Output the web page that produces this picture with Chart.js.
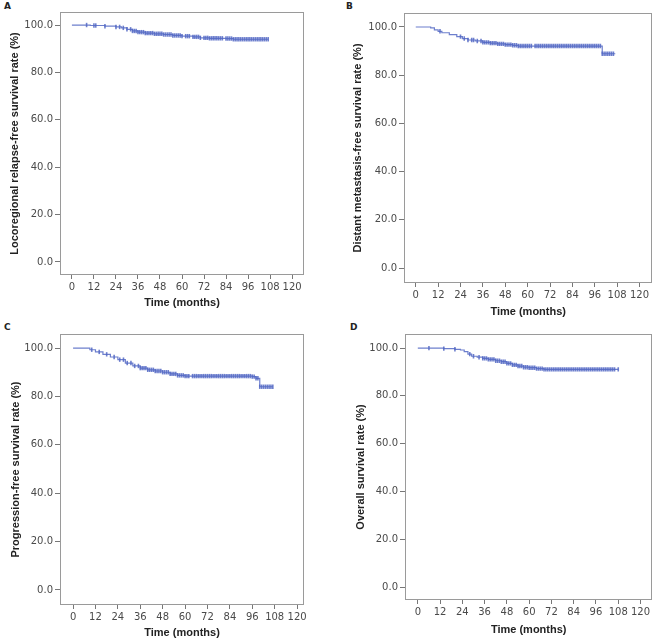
<!DOCTYPE html>
<html><head><meta charset="utf-8">
<script src="https://cdn.jsdelivr.net/npm/chart.js@4.4.1/dist/chart.umd.min.js"></script>
<style>
body{margin:0;background:#fff;width:658px;height:640px;position:relative;overflow:hidden}
canvas{position:absolute}
.lab{position:absolute;font:bold 9px "DejaVu Sans",sans-serif;color:#222}
</style></head><body>
<div class="lab" style="left:4px;top:1px">A</div>
<div class="lab" style="left:346px;top:1px">B</div>
<div class="lab" style="left:4px;top:322px">C</div>
<div class="lab" style="left:350px;top:322px">D</div>
<canvas id="cA" width="329" height="320" style="left:0;top:0;width:329px;height:320px"></canvas>
<canvas id="cB" width="329" height="320" style="left:329px;top:0;width:329px;height:320px"></canvas>
<canvas id="cC" width="329" height="320" style="left:0;top:320px;width:329px;height:320px"></canvas>
<canvas id="cD" width="329" height="320" style="left:329px;top:320px;width:329px;height:320px"></canvas>
<script>
// ---- data ----
const xTicks = [0, 12, 24, 36, 48, 60, 72, 84, 96, 108, 120];
const yTicks = [0, 20, 40, 60, 80, 100];
const xTitle = "Time (months)";

// A: Locoregional relapse-free survival
const titleA = "Locoregional relapse-free survival rate (%)";
const timeA = [0, 10, 18, 24, 27, 30, 33, 36, 40, 45, 50, 55, 60, 66, 70, 75, 84, 88, 107];
const survA = [100, 99.8, 99.5, 99.2, 98.8, 98.2, 97.5, 97.0, 96.6, 96.3, 96.0, 95.6, 95.3, 95.0, 94.6, 94.4, 94.3, 94.0, 94.0];
const censA = [8, 12, 13, 18, 24, 26, 28, 30, 32, 33, 34, 35, 36, 37, 38, 39, 40, 41, 42, 43, 44, 45, 46, 47, 48, 49, 50, 51, 52, 53, 54, 55, 56, 57, 58, 59, 60, 62, 63, 64, 66, 67, 68, 69, 70, 72, 73, 74, 75, 76, 77, 78, 79, 80, 81, 82, 84, 85, 86, 87, 88, 89, 90, 91, 92, 93, 94, 95, 96, 97, 98, 99, 100, 101, 102, 103, 104, 105, 106, 107];

// B: Distant metastasis-free survival
const titleB = "Distant metastasis-free survival rate (%)";
const timeB = [0, 6, 8, 10, 12, 14, 18, 22, 25, 28, 32, 36, 40, 44, 48, 52, 55, 99.5, 100, 107];
const survB = [100, 100, 99.6, 98.8, 98.2, 97.6, 96.8, 96.0, 95.2, 94.6, 94.2, 93.6, 93.3, 93.0, 92.7, 92.4, 92.1, 92.1, 88.9, 88.9];
const censB = [13, 24, 26, 28, 30, 31, 33, 35, 36, 37, 38, 39, 40, 41, 42, 43, 44, 45, 46, 47, 48, 49, 50, 51, 52, 53, 54, 55, 56, 57, 58, 59, 60, 61, 62, 64, 65, 66, 67, 68, 69, 70, 71, 72, 73, 74, 75, 76, 77, 78, 79, 80, 81, 82, 83, 84, 85, 86, 87, 88, 89, 90, 91, 92, 93, 94, 95, 96, 97, 98, 99, 100, 101, 102, 103, 104, 105, 106];

// C: Progression-free survival
const titleC = "Progression-free survival rate (%)";
const timeC = [0, 7, 9, 12, 16, 20, 24, 28, 32, 36, 40, 44, 48, 52, 56, 60, 96, 98, 100, 107];
const survC = [100, 100, 99.3, 98.4, 97.4, 96.3, 95.2, 93.8, 92.6, 91.7, 91.0, 90.5, 90.0, 89.3, 88.7, 88.4, 88.2, 87.5, 84.0, 84.0];
const censC = [10, 14, 18, 22, 25, 27, 29, 31, 33, 35, 36, 37, 38, 39, 40, 41, 42, 43, 44, 45, 46, 47, 48, 49, 50, 51, 52, 53, 54, 55, 56, 57, 58, 59, 60, 61, 62, 64, 65, 66, 67, 68, 69, 70, 71, 72, 73, 74, 75, 76, 77, 78, 79, 80, 81, 82, 83, 84, 85, 86, 87, 88, 89, 90, 91, 92, 93, 94, 95, 96, 97, 98, 99, 100, 101, 102, 103, 104, 105, 106, 107];

// D: Overall survival
const titleD = "Overall survival rate (%)";
const timeD = [0, 14, 20, 23, 25, 27, 29, 32, 35, 38, 42, 45, 48, 51, 54, 57, 60, 64, 68, 108];
const survD = [100, 99.8, 99.5, 99.2, 98.5, 97.5, 96.6, 96.2, 95.7, 95.3, 94.7, 94.3, 93.6, 93.0, 92.5, 92.0, 91.8, 91.4, 91.1, 91.1];
const censD = [6, 14, 20, 28, 30, 33, 35, 36, 37, 38, 39, 40, 41, 42, 43, 44, 45, 46, 47, 48, 49, 50, 51, 52, 53, 54, 55, 56, 57, 58, 59, 60, 61, 62, 63, 64, 65, 66, 67, 68, 69, 70, 71, 72, 73, 74, 75, 76, 77, 78, 79, 80, 81, 82, 83, 84, 85, 86, 87, 88, 89, 90, 91, 92, 93, 94, 95, 96, 97, 98, 99, 100, 101, 102, 103, 104, 105, 106, 108];

// ---- drawing ----
const LINE = "rgba(84,104,196,0.85)";
const TICKFONT = {family: "DejaVu Sans", size: 10};
const TITLEFONT = {family: "Liberation Sans", size: 11, weight: "bold"};

const frame = {
  id: "frame",
  afterDraw(chart) {
    const a = chart.chartArea, ctx = chart.ctx;
    ctx.save();
    ctx.strokeStyle = "#9a9a9a";
    ctx.lineWidth = 1;
    ctx.strokeRect(Math.round(a.left) + 0.5, Math.round(a.top) + 0.5, Math.round(a.right - a.left) - 1, Math.round(a.bottom - a.top) - 1);
    ctx.restore();
  }
};

function survAt(times, surv, t) {
  let v = surv[0];
  for (let i = 0; i < times.length; i++) if (times[i] <= t) v = surv[i];
  return v;
}

function panel(id, times, surv, cens, yTitle, g) {
  new Chart(document.getElementById(id), {
    data: {
      datasets: [
        {type: "line", data: times.map((t, i) => ({x: t, y: surv[i]})), stepped: true,
         borderColor: LINE, borderWidth: 1.2, pointRadius: 0, fill: false},
        {type: "scatter", data: cens.map(t => ({x: t, y: survAt(times, surv, t)})),
         pointStyle: "line", rotation: 90, pointRadius: 2.2, borderColor: LINE, borderWidth: 1.6,
         backgroundColor: LINE}
      ]
    },
    options: {
      responsive: false, animation: false, events: [],
      layout: {padding: {left: 0, top: g.top, right: g.right, bottom: 0}},
      plugins: {legend: {display: false}, tooltip: {enabled: false}},
      scales: {
        x: {
          type: "linear", min: g.xMin, max: g.xMax,
          afterBuildTicks: s => { s.ticks = xTicks.map(v => ({value: v})); },
          afterFit: s => { s.height = g.xH; },
          ticks: {font: TICKFONT, color: "#4a4a4a", padding: 2, maxRotation: 0, autoSkip: false,
                  callback: v => String(v)},
          grid: {drawOnChartArea: false, drawTicks: true, tickLength: 4, color: "#777"},
          border: {display: false},
          title: {display: true, text: xTitle, font: TITLEFONT, color: "#222",
                  padding: {top: 0, bottom: g.xtp}}
        },
        y: {
          type: "linear", min: g.yMin, max: g.yMax,
          afterBuildTicks: s => { s.ticks = yTicks.map(v => ({value: v})); },
          afterFit: s => { s.width = g.yW; },
          ticks: {font: TICKFONT, color: "#4a4a4a", padding: 2,
                  callback: v => Number(v).toFixed(1)},
          grid: {drawOnChartArea: false, drawTicks: true, tickLength: 5, color: "#777"},
          border: {display: false},
          title: {display: true, text: yTitle, font: TITLEFONT, color: "#222",
                  padding: {top: g.ytp, bottom: 0}}
        }
      }
    },
    plugins: [frame]
  });
}

panel("cA", timeA, survA, censA, titleA,
  {top: 12, right: 25, xH: 45, yW: 60, xMin: -6.5, xMax: 126.5, yMin: -5.5, yMax: 105.5, ytp: 8, xtp: 10});
panel("cB", timeB, survB, censB, titleB,
  {top: 13, right: 2, xH: 37, yW: 75, xMin: -6.3, xMax: 126.9, yMin: -6.2, yMax: 105.8, ytp: 22, xtp: 1});
panel("cC", timeC, survC, censC, titleC,
  {top: 14, right: 25, xH: 35, yW: 60, xMin: -7.0, xMax: 123.7, yMin: -6.2, yMax: 105.8, ytp: 9, xtp: 0});
panel("cD", timeD, survD, censD, titleD,
  {top: 14, right: 2, xH: 40, yW: 76, xMin: -6.9, xMax: 126.4, yMin: -5.4, yMax: 105.9, ytp: 25, xtp: 3});
</script>
</body></html>
